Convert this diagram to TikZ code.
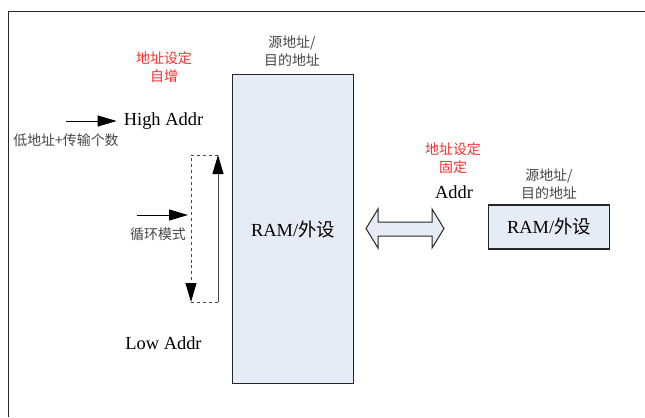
\documentclass[tikz,border=0pt]{standalone}
\usepackage{fontspec}
\setmainfont{Liberation Serif}
\newfontfamily\cjk{Noto Sans CJK SC}
\usetikzlibrary{arrows.meta}

\definecolor{boxfill}{RGB}{230,236,246}
\definecolor{rosso}{RGB}{255,45,45}
\definecolor{grigio}{RGB}{70,70,70}

\tikzset{
  membox/.style={draw=black!85, line width=1.2bp, fill=boxfill, inner sep=0pt,
    font=\fontsize{18.5}{20}\selectfont},
  lat/.style={font=\fontsize{18.5}{20}\selectfont, inner sep=0pt},
  zh/.style={font=\fontsize{14}{18}\selectfont\cjk, text=grigio, inner sep=0pt, align=center},
  zhred/.style={zh, text=rosso},
  freccia/.style={-{Triangle[length=19bp,width=11bp,color=black]}, line width=1bp},
}

\begin{document}
\begin{tikzpicture}[x=1bp, y=-1bp]
    \useasboundingbox (0,0) rectangle (645,417);

    % cornice
    \draw[line width=1bp, black!85] (8,417) -- (8,11) -- (645,11);

    % memoria grande
    \node[membox, minimum width=121bp, minimum height=309bp, anchor=north west]
        (ram) at (232,74) {RAM/{\cjk 外设}};
    \node[zh] (ramsrc) at (292,51) {源地址/\\目的地址};
    \node[zhred] (inc) at (164,67.5) {地址设定\\自增};

    % indirizzi
    \node[lat] (hi) at (163.5,121) {High Addr};
    \node[lat] (lo) at (163.5,343) {Low Addr};
    \node[zh] (cnt) at (66,140) {低地址+传输个数};
    \coordinate (hiS) at (66,121);
    \draw[freccia, shorten >=7bp] (hiS) -- (hi.west);

    % modo circolare
    \coordinate (lpTL) at (191,155);
    \coordinate (lpTR) at (218,155);
    \coordinate (lpBL) at (191,302);
    \coordinate (lpBR) at (218,302);
    \draw[freccia, dashed, grigio] (lpTR) -- (lpTL) -- (lpBL);
    \draw[dashed, grigio, line width=1bp] (lpBL) -- (lpBR);
    \draw[freccia, grigio] (lpBR) -- (lpTR);
    \node[zh] (loop) at (158,234) {循环模式};
    \coordinate (lpIn) at (137,215);
    \draw[freccia, shorten >=3bp] (lpIn) -- (lpIn -| lpTL);

    % bus
    \draw[line width=1bp, black!85, fill=boxfill]
        (366,228.5) -- (378,209) -- (378,222) -- (432,222) -- (432,209)
        -- (444,228.5) -- (432,248) -- (432,236) -- (378,236) -- (378,248) -- cycle;
    \node[zhred] (fix) at (453,158) {地址设定\\固定};
    \node[lat] (addr) at (454,192) {Addr};

    % memoria piccola
    \node[membox, minimum width=121bp, minimum height=44bp] (per) at (549,227) {RAM/{\cjk 外设}};
    \node[zh] (persrc) at (549,184) {源地址/\\目的地址};
\end{tikzpicture}
\end{document}
